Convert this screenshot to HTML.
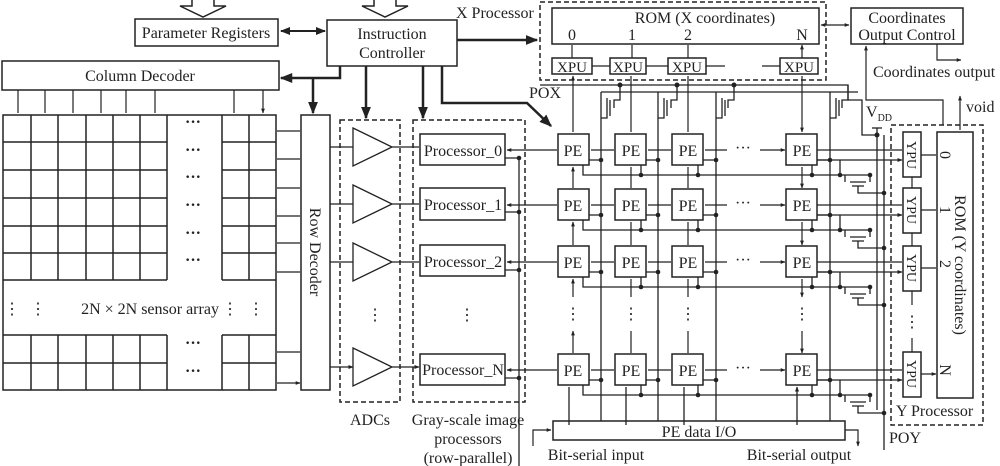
<!DOCTYPE html>
<html><head><meta charset="utf-8"><style>
html,body{margin:0;padding:0;background:#fff}
svg{display:block}
text{font-family:"Liberation Serif",serif;fill:#222}
</style></head><body>
<svg width="1000" height="466" viewBox="0 0 1000 466" xmlns="http://www.w3.org/2000/svg">
<defs>
<marker id="a" viewBox="0 0 10 10" refX="9" refY="5" markerWidth="5" markerHeight="5" orient="auto-start-reverse"><path d="M0,1 L10,5 L0,9z" fill="#222"/></marker>
<marker id="b" viewBox="0 0 10 10" refX="9" refY="5" markerWidth="4" markerHeight="4" orient="auto-start-reverse"><path d="M0,1 L10,5 L0,9z" fill="#222"/></marker>
</defs>
<g stroke="#222" fill="none" stroke-width="1.5">
<path d="M192,0 V6 H180 L203,17 L226,6 H214 V0"/>
<path d="M374,0 V6 H362 L385,17 L408,6 H396 V0"/>
<rect x="135" y="19" width="143" height="27"/>
<rect x="327" y="20" width="130" height="46"/>
<rect x="2" y="61" width="277" height="29"/>
<path d="M281,31 H325" stroke-width="2" marker-start="url(#a)" marker-end="url(#a)"/>
<path d="M340,66 V78 H281" stroke-width="2.5" marker-end="url(#a)"/>
<path d="M313,78 V113" stroke-width="2.5" marker-end="url(#a)"/>
<path d="M366,66 V118" stroke-width="2.5" marker-end="url(#a)"/>
<path d="M423,66 V118" stroke-width="2.5" marker-end="url(#a)"/>
<path d="M442,66 V103 H527 L551,126" stroke-width="2.5" marker-end="url(#a)"/>
<path d="M457,40 H537" stroke-width="2.5" marker-end="url(#a)"/>
<g stroke-width="1.2">
<path d="M18,90V113M45,90V113M73,90V113M101,90V113M126,90V113M155,90V113M234,90V113M263,90V113" marker-end="url(#b)"/>
</g>
<rect x="3" y="115" width="273" height="275"/>
<path d="M3,142H167M3,170H167M3,198H167M3,226H167M3,253H167M3,280H167M222,142H276M222,170H276M222,198H276M222,226H276M222,253H276M222,280H276M3,335H167M3,363H167M222,335H276M222,363H276"/>
<path d="M31,115V280M58,115V280M86,115V280M113,115V280M140,115V280M167,115V280M222,115V280M249,115V280M31,335V390M58,335V390M86,335V390M113,335V390M140,335V390M167,335V390M222,335V390M249,335V390"/>
<path d="M277,131H300M277,159H300M277,188H300M277,216H300M277,243H300M277,272H300M277,352H300M277,383H300" stroke-width="1.2" marker-end="url(#b)"/>
<rect x="301" y="115" width="29" height="275"/>
<rect x="340" y="120" width="60" height="282" stroke-dasharray="5,3"/>
<rect x="413" y="120" width="112" height="282" stroke-dasharray="5,3"/>
<g stroke-width="1.3">
<path d="M353,128 L392,147 L353,166Z M353,185 L392,204 L353,223Z M353,243 L392,262 L353,281Z M353,348 L392,367 L353,386Z"/>
<path d="M330,147H353M330,204H353M330,262H353M330,367H353" marker-end="url(#b)"/>
<path d="M392,147H419M392,204H419M392,262H419M392,367H419" marker-end="url(#b)"/>
</g>
<rect x="420" y="134" width="85" height="31"/>
<rect x="420" y="188" width="85" height="32"/>
<rect x="420" y="245" width="85" height="31"/>
<rect x="420" y="354" width="85" height="31"/>
<path d="M505,158H519M505,212H519M505,270H519M505,378H519M519,158V466" stroke-width="1.3"/>
<rect x="540" y="2" width="286" height="78" stroke-dasharray="5,3"/>
<rect x="552" y="8" width="267" height="36"/>
<rect x="552" y="58" width="40" height="16"/>
<rect x="610" y="58" width="36" height="16"/>
<rect x="668" y="58" width="38" height="16"/>
<rect x="780" y="58" width="38" height="16"/>
<path d="M592,66H610M646,66H668M706,66H725M762,66H780" stroke-width="1.2"/>
<path d="M572,58V45M632,58V45M688,58V45M802,58V45" stroke-width="1.2" marker-end="url(#b)"/>
<rect x="851" y="8" width="112" height="36"/>
<path d="M821,25H849" stroke-width="1.2" marker-start="url(#b)" marker-end="url(#b)"/>
<path d="M937,44V60H961" stroke-width="1.2" marker-end="url(#b)"/>
<path d="M943,125V100H866V46" stroke-width="1.2" marker-end="url(#b)"/>
<path d="M960,130V96" stroke-width="1.2" marker-end="url(#b)"/>
<g stroke-width="1.3">
<path d="M540,85H848V100H862V135H877"/>
<path d="M601,92H858"/>
<path d="M601,92V421M658,92V421M716,92V421M830,92V421"/>
<path d="M620,85V100H614V108 M677,85V100H671V108 M734,85V100H728V108 M848,85V100H842V108"/>
<path d="M607,98V118H601 M664,98V118H658 M722,98V118H716 M836,98V118H830"/>
<path d="M610,100V116 M667,100V116 M725,100V116 M839,100V116"/>
<path d="M877,128V410 M884,135V450"/>
<path d="M872,128H882"/>
</g>
<g fill="#222" stroke="none">
<circle cx="620" cy="85" r="2.5"/><circle cx="677" cy="85" r="2.5"/><circle cx="734" cy="85" r="2.5"/><circle cx="877" cy="135" r="2.5"/>
</g>
<path d="M573,76V132M631,76V132M688,76V132M802,76V132" stroke-width="1.2" marker-start="url(#b)" marker-end="url(#b)"/>
<g>
<rect x="558" y="134" width="31" height="31"/><rect x="615" y="134" width="31" height="31"/><rect x="672" y="134" width="31" height="31"/><rect x="786" y="134" width="31" height="31"/>
<rect x="558" y="189" width="31" height="31"/><rect x="615" y="189" width="31" height="31"/><rect x="672" y="189" width="31" height="31"/><rect x="786" y="189" width="31" height="31"/>
<rect x="558" y="246" width="31" height="31"/><rect x="615" y="246" width="31" height="31"/><rect x="672" y="246" width="31" height="31"/><rect x="786" y="246" width="31" height="31"/>
<rect x="558" y="354" width="31" height="31"/><rect x="615" y="354" width="31" height="31"/><rect x="672" y="354" width="31" height="31"/><rect x="786" y="354" width="31" height="31"/>
</g>
<g stroke-width="1.2" marker-start="url(#b)" marker-end="url(#b)">
<path d="M507,150H557M591,150H614M648,150H671M705,150H727M760,150H785"/>
<path d="M507,205H557M591,205H614M648,205H671M705,205H727M760,205H785"/>
<path d="M507,262H557M591,262H614M648,262H671M705,262H727M760,262H785"/>
<path d="M507,370H557M591,370H614M648,370H671M705,370H727M760,370H785"/>
<path d="M573,167V188M631,167V188M688,167V188M802,167V188"/>
<path d="M573,222V245M631,222V245M688,222V245M802,222V245"/>
<path d="M573,279V297M631,279V297M688,279V297M802,279V297"/>
<path d="M573,331V353M631,331V353M688,331V353M802,331V353"/>
</g>
<g stroke-width="1.3">
<path d="M589,160H601M646,160H658M703,160H716M817,160H830"/>
<path d="M589,215H601M646,215H658M703,215H716M817,215H830"/>
<path d="M589,272H601M646,272H658M703,272H716M817,272H830"/>
<path d="M589,380H601M646,380H658M703,380H716M817,380H830"/>
<path d="M583,165V175H870 M583,220V230H870 M583,277V287H870 M583,385V395H870"/>
<path d="M641,165V175M698,165V175M812,165V175M641,220V230M698,220V230M812,220V230M641,277V287M698,277V287M812,277V287M641,385V395M698,385V395M812,385V395"/>
<path d="M817,150H902M817,160H902" marker-end="url(#b)"/>
<path d="M817,205H902M817,215H902" marker-end="url(#b)"/>
<path d="M817,262H902M817,272H902" marker-end="url(#b)"/>
<path d="M817,370H902M817,380H902" marker-end="url(#b)"/>
<path d="M840,160V175M840,215V230M840,272V287M840,380V395"/>
<path d="M850,182H866M850,237H866M850,294H866M850,402H866 M852,186H864M852,241H864M852,298H864M852,406H864"/>
<path d="M858,186V193H884M858,241V248H884M858,298V305H884M858,406V413H884"/>
<path d="M845,175V182M870,175V182M845,230V237M870,230V237M845,287V294M870,287V294M845,395V402M870,395V402"/>
<path d="M569,425V387M626,425V387M684,425V387M797,425V387" marker-end="url(#b)"/>
</g>
<g fill="#222" stroke="none">
<circle cx="601" cy="160" r="2.3"/><circle cx="658" cy="160" r="2.3"/><circle cx="716" cy="160" r="2.3"/><circle cx="830" cy="160" r="2.3"/>
<circle cx="601" cy="215" r="2.3"/><circle cx="658" cy="215" r="2.3"/><circle cx="716" cy="215" r="2.3"/><circle cx="830" cy="215" r="2.3"/>
<circle cx="601" cy="272" r="2.3"/><circle cx="658" cy="272" r="2.3"/><circle cx="716" cy="272" r="2.3"/><circle cx="830" cy="272" r="2.3"/>
<circle cx="601" cy="380" r="2.3"/><circle cx="658" cy="380" r="2.3"/><circle cx="716" cy="380" r="2.3"/><circle cx="830" cy="380" r="2.3"/>
<circle cx="641" cy="175" r="2.3"/><circle cx="698" cy="175" r="2.3"/><circle cx="812" cy="175" r="2.3"/><circle cx="840" cy="175" r="2.3"/><circle cx="870" cy="175" r="2.3"/>
<circle cx="641" cy="230" r="2.3"/><circle cx="698" cy="230" r="2.3"/><circle cx="812" cy="230" r="2.3"/><circle cx="840" cy="230" r="2.3"/><circle cx="870" cy="230" r="2.3"/>
<circle cx="641" cy="287" r="2.3"/><circle cx="698" cy="287" r="2.3"/><circle cx="812" cy="287" r="2.3"/><circle cx="840" cy="287" r="2.3"/><circle cx="870" cy="287" r="2.3"/>
<circle cx="641" cy="395" r="2.3"/><circle cx="698" cy="395" r="2.3"/><circle cx="812" cy="395" r="2.3"/><circle cx="840" cy="395" r="2.3"/><circle cx="870" cy="395" r="2.3"/>
<circle cx="884" cy="193" r="2.3"/><circle cx="884" cy="248" r="2.3"/><circle cx="884" cy="305" r="2.3"/><circle cx="884" cy="413" r="2.3"/>
<circle cx="519" cy="158" r="2.3"/><circle cx="519" cy="212" r="2.3"/><circle cx="519" cy="270" r="2.3"/><circle cx="519" cy="378" r="2.3"/>
</g>
<rect x="891" y="125" width="92" height="300" stroke-dasharray="5,3"/>
<rect x="903" y="132" width="18" height="45"/>
<rect x="903" y="188" width="18" height="45"/>
<rect x="903" y="246" width="18" height="45"/>
<rect x="903" y="352" width="18" height="45"/>
<rect x="937" y="132" width="36" height="266"/>
<path d="M912,177V188M912,233V246M912,291V305M912,338V352" stroke-width="1.2"/>
<path d="M921,155H936M921,210H936M921,268H936M921,374H936" stroke-width="1.2" marker-end="url(#b)"/>
<rect x="553" y="421" width="292" height="19"/>
<path d="M533,446V430H551" stroke-width="1.2" marker-end="url(#b)"/>
<path d="M845,430H858V446" stroke-width="1.2" marker-end="url(#b)"/>
</g>
<g font-size="16">
<text x="206" y="38" text-anchor="middle">Parameter Registers</text>
<text x="392" y="39" text-anchor="middle">Instruction</text>
<text x="392" y="58" text-anchor="middle">Controller</text>
<text x="140" y="81" text-anchor="middle">Column Decoder</text>
<text x="456" y="18">X Processor</text>
<text x="705" y="23" text-anchor="middle">ROM (X coordinates)</text>
<text x="572" y="40" text-anchor="middle">0</text><text x="632" y="40" text-anchor="middle">1</text><text x="688" y="40" text-anchor="middle">2</text><text x="802" y="40" text-anchor="middle">N</text>
<g font-size="15"><text x="572" y="72" text-anchor="middle">XPU</text><text x="628" y="72" text-anchor="middle">XPU</text><text x="687" y="72" text-anchor="middle">XPU</text><text x="799" y="72" text-anchor="middle">XPU</text></g>
<text x="907" y="23" text-anchor="middle">Coordinates</text>
<text x="907" y="40" text-anchor="middle">Output Control</text>
<text x="873" y="77">Coordinates output</text>
<text x="529" y="98">POX</text>
<text x="966" y="112">void</text>
<text x="866" y="117">V<tspan font-size="10" dy="4">DD</tspan></text>
<g text-anchor="middle">
<text x="573" y="156">PE</text><text x="631" y="156">PE</text><text x="688" y="156">PE</text><text x="802" y="156">PE</text>
<text x="573" y="211">PE</text><text x="631" y="211">PE</text><text x="688" y="211">PE</text><text x="802" y="211">PE</text>
<text x="573" y="268">PE</text><text x="631" y="268">PE</text><text x="688" y="268">PE</text><text x="802" y="268">PE</text>
<text x="573" y="376">PE</text><text x="631" y="376">PE</text><text x="688" y="376">PE</text><text x="802" y="376">PE</text>
<text x="743" y="153">···</text><text x="743" y="208">···</text><text x="743" y="265">···</text><text x="743" y="373">···</text>
<text x="463" y="156">Processor_0</text>
<text x="463" y="210">Processor_1</text>
<text x="463" y="267">Processor_2</text>
<text x="463" y="375">Processor_N</text>
<g font-weight="bold"><text x="193" y="127">···</text><text x="193" y="155">···</text><text x="193" y="182">···</text><text x="193" y="210">···</text><text x="193" y="238">···</text><text x="193" y="265">···</text><text x="193" y="348">···</text><text x="193" y="376">···</text></g>
<text x="150" y="314">2N × 2N sensor array</text>
<text x="12" y="314">⋮</text><text x="38" y="314">⋮</text><text x="230" y="314">⋮</text><text x="256" y="314">⋮</text>
<text x="375" y="320">⋮</text><text x="467" y="320">⋮</text>
<text x="573" y="319">⋮</text><text x="631" y="319">⋮</text><text x="688" y="319">⋮</text><text x="802" y="319">⋮</text><text x="912" y="327">⋮</text>
<text x="370" y="425">ADCs</text>
<text x="468" y="425">Gray-scale image</text>
<text x="468" y="444">processors</text>
<text x="468" y="463">(row-parallel)</text>
<text x="699" y="437">PE data I/O</text>
<text x="596" y="460">Bit-serial input</text>
<text x="799" y="460">Bit-serial output</text>
</g>
<text x="896" y="416">Y Processor</text>
<text x="889" y="443">POY</text>
<text transform="translate(310,252) rotate(90)" text-anchor="middle">Row Decoder</text>
<g font-size="14" text-anchor="middle">
<text transform="translate(907,155) rotate(90)">YPU</text>
<text transform="translate(907,210) rotate(90)">YPU</text>
<text transform="translate(907,268) rotate(90)">YPU</text>
<text transform="translate(907,374) rotate(90)">YPU</text>
</g>
<g text-anchor="middle">
<text transform="translate(940,155) rotate(90)">0</text>
<text transform="translate(940,210) rotate(90)">1</text>
<text transform="translate(940,264) rotate(90)">2</text>
<text transform="translate(940,370) rotate(90)">N</text>
<text transform="translate(955,265) rotate(90)">ROM (Y coordinates)</text>
</g>
</g>
</svg>
</body></html>
